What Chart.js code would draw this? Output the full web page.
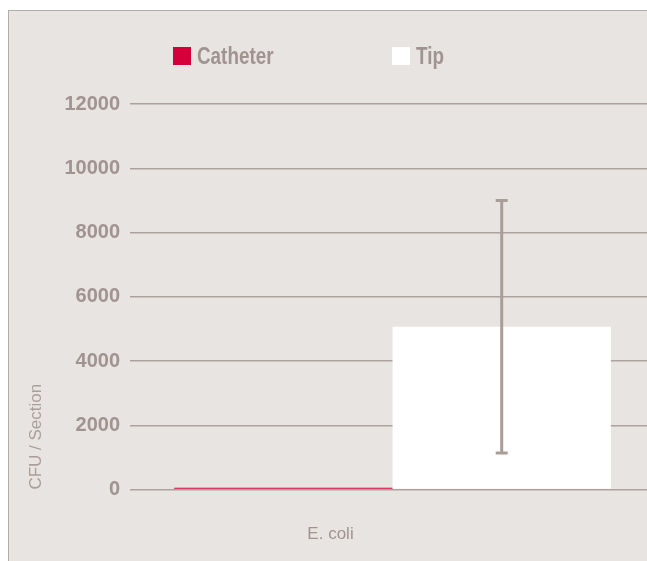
<!DOCTYPE html>
<html>
<head>
<meta charset="utf-8">
<script src="https://cdn.jsdelivr.net/npm/chart.js@4.4.1/dist/chart.umd.min.js"></script>
<style>
  html, body { margin: 0; padding: 0; background: #ffffff; overflow: hidden; }
  #frame {
    position: absolute; left: 8px; top: 10px; width: 700px; height: 600px;
    background: #e8e4e1;
    border-left: 1px solid #b5aca8;
    border-top: 1px solid #b5aca8;
  }
  #chartBox { position: absolute; left: 0; top: 0; width: 655px; height: 600px; }
  #legende { position: absolute; left: 173px; top: 47px; display: flex; }
  #legende .item { display: flex; align-items: center; width: 219px; height: 18px; }
  #legende .carre { width: 18px; height: 18px; }
  #legende .texte {
    display: inline-block;
    margin-left: 6px; line-height: 18px;
    font: bold 23px "Liberation Sans", sans-serif;
    color: #a1938f;
    transform: scaleX(0.82);
    transform-origin: left center;
  }
</style>
</head>
<body>
<div id="frame"></div>
<div id="chartBox"><canvas id="chartCfu" width="655" height="600"></canvas></div>
<div id="legende"></div>

<script>
// Données : CFU par section (E. coli)
const categories = ['E. coli'];
const seriesLabels = ['Catheter', 'Tip'];
const catheterValues = [60];
const tipValues = [5070];
const catheterErrors = [null];
const tipErrors = [3930];
const yTicks = [0, 2000, 4000, 6000, 8000, 10000, 12000];

const couleurTexte = '#a1938f';
const couleurGrille = '#aca19d';

// Barres d'erreur dessinées à partir de l'échelle y
const errorBarsPlugin = {
    id: 'errorBars',
    afterDatasetsDraw(chart) {
        const ctx = chart.ctx;
        const yScale = chart.scales.y;
        chart.data.datasets.forEach((ds, di) => {
            if (!ds.errors) return;
            const meta = chart.getDatasetMeta(di);
            meta.data.forEach((bar, i) => {
                const err = ds.errors[i];
                if (err == null) return;
                const v = ds.data[i];
                const yHaut = yScale.getPixelForValue(v + err);
                const yBas = yScale.getPixelForValue(v - err);
                const x = bar.x;
                ctx.save();
                ctx.strokeStyle = '#a99d98';
                ctx.lineWidth = 3;
                ctx.beginPath();
                ctx.moveTo(x, yHaut);
                ctx.lineTo(x, yBas);
                ctx.moveTo(x - 6, yHaut);
                ctx.lineTo(x + 6, yHaut);
                ctx.moveTo(x - 6, yBas);
                ctx.lineTo(x + 6, yBas);
                ctx.stroke();
                ctx.restore();
            });
        });
    }
};

// Légende HTML construite depuis les datasets
function construireLegende(chart) {
    const conteneur = document.getElementById('legende');
    conteneur.innerHTML = '';
    chart.data.datasets.forEach(ds => {
        const item = document.createElement('div');
        item.className = 'item';
        const carre = document.createElement('span');
        carre.className = 'carre';
        carre.style.background = ds.backgroundColor;
        const texte = document.createElement('span');
        texte.className = 'texte';
        texte.textContent = ds.label;
        item.appendChild(carre);
        item.appendChild(texte);
        conteneur.appendChild(item);
    });
}

const canvas = document.getElementById('chartCfu');

const chart = new Chart(canvas, {
    type: 'bar',
    data: {
        labels: categories,
        datasets: [{
            label: seriesLabels[0],
            data: catheterValues,
            errors: catheterErrors,
            backgroundColor: '#d5003a'
        }, {
            label: seriesLabels[1],
            data: tipValues,
            errors: tipErrors,
            backgroundColor: '#ffffff'
        }]
    },
    options: {
        responsive: false,
        animation: false,
        layout: {
            padding: { top: 104, bottom: 20, left: 0, right: 0 }
        },
        datasets: {
            bar: { categoryPercentage: 0.832, barPercentage: 1.0 }
        },
        plugins: {
            legend: { display: false },
            tooltip: { enabled: false }
        },
        scales: {
            x: {
                grid: { display: false, drawTicks: false },
                border: { display: false },
                ticks: {
                    color: couleurTexte,
                    padding: 35,
                    labelOffset: -62,
                    font: { family: '"Liberation Sans", sans-serif', size: 17 }
                }
            },
            y: {
                min: 0,
                max: 12000,
                afterBuildTicks: (scale) => {
                    scale.ticks = yTicks.map(v => ({ value: v }));
                },
                grid: { color: couleurGrille, lineWidth: 1.5, drawTicks: false },
                border: { display: false },
                ticks: {
                    color: couleurTexte,
                    padding: 10,
                    callback: (value) => String(value),
                    font: { family: '"Liberation Sans", sans-serif', size: 20, weight: 'bold' }
                },
                title: {
                    display: true,
                    text: 'CFU / Section',
                    align: 'start',
                    color: '#aa9e9a',
                    padding: { top: 26, bottom: 8 },
                    font: { family: '"Liberation Sans", sans-serif', size: 17 }
                }
            }
        }
    },
    plugins: [errorBarsPlugin]
});

construireLegende(chart);
</script>
</body>
</html>
